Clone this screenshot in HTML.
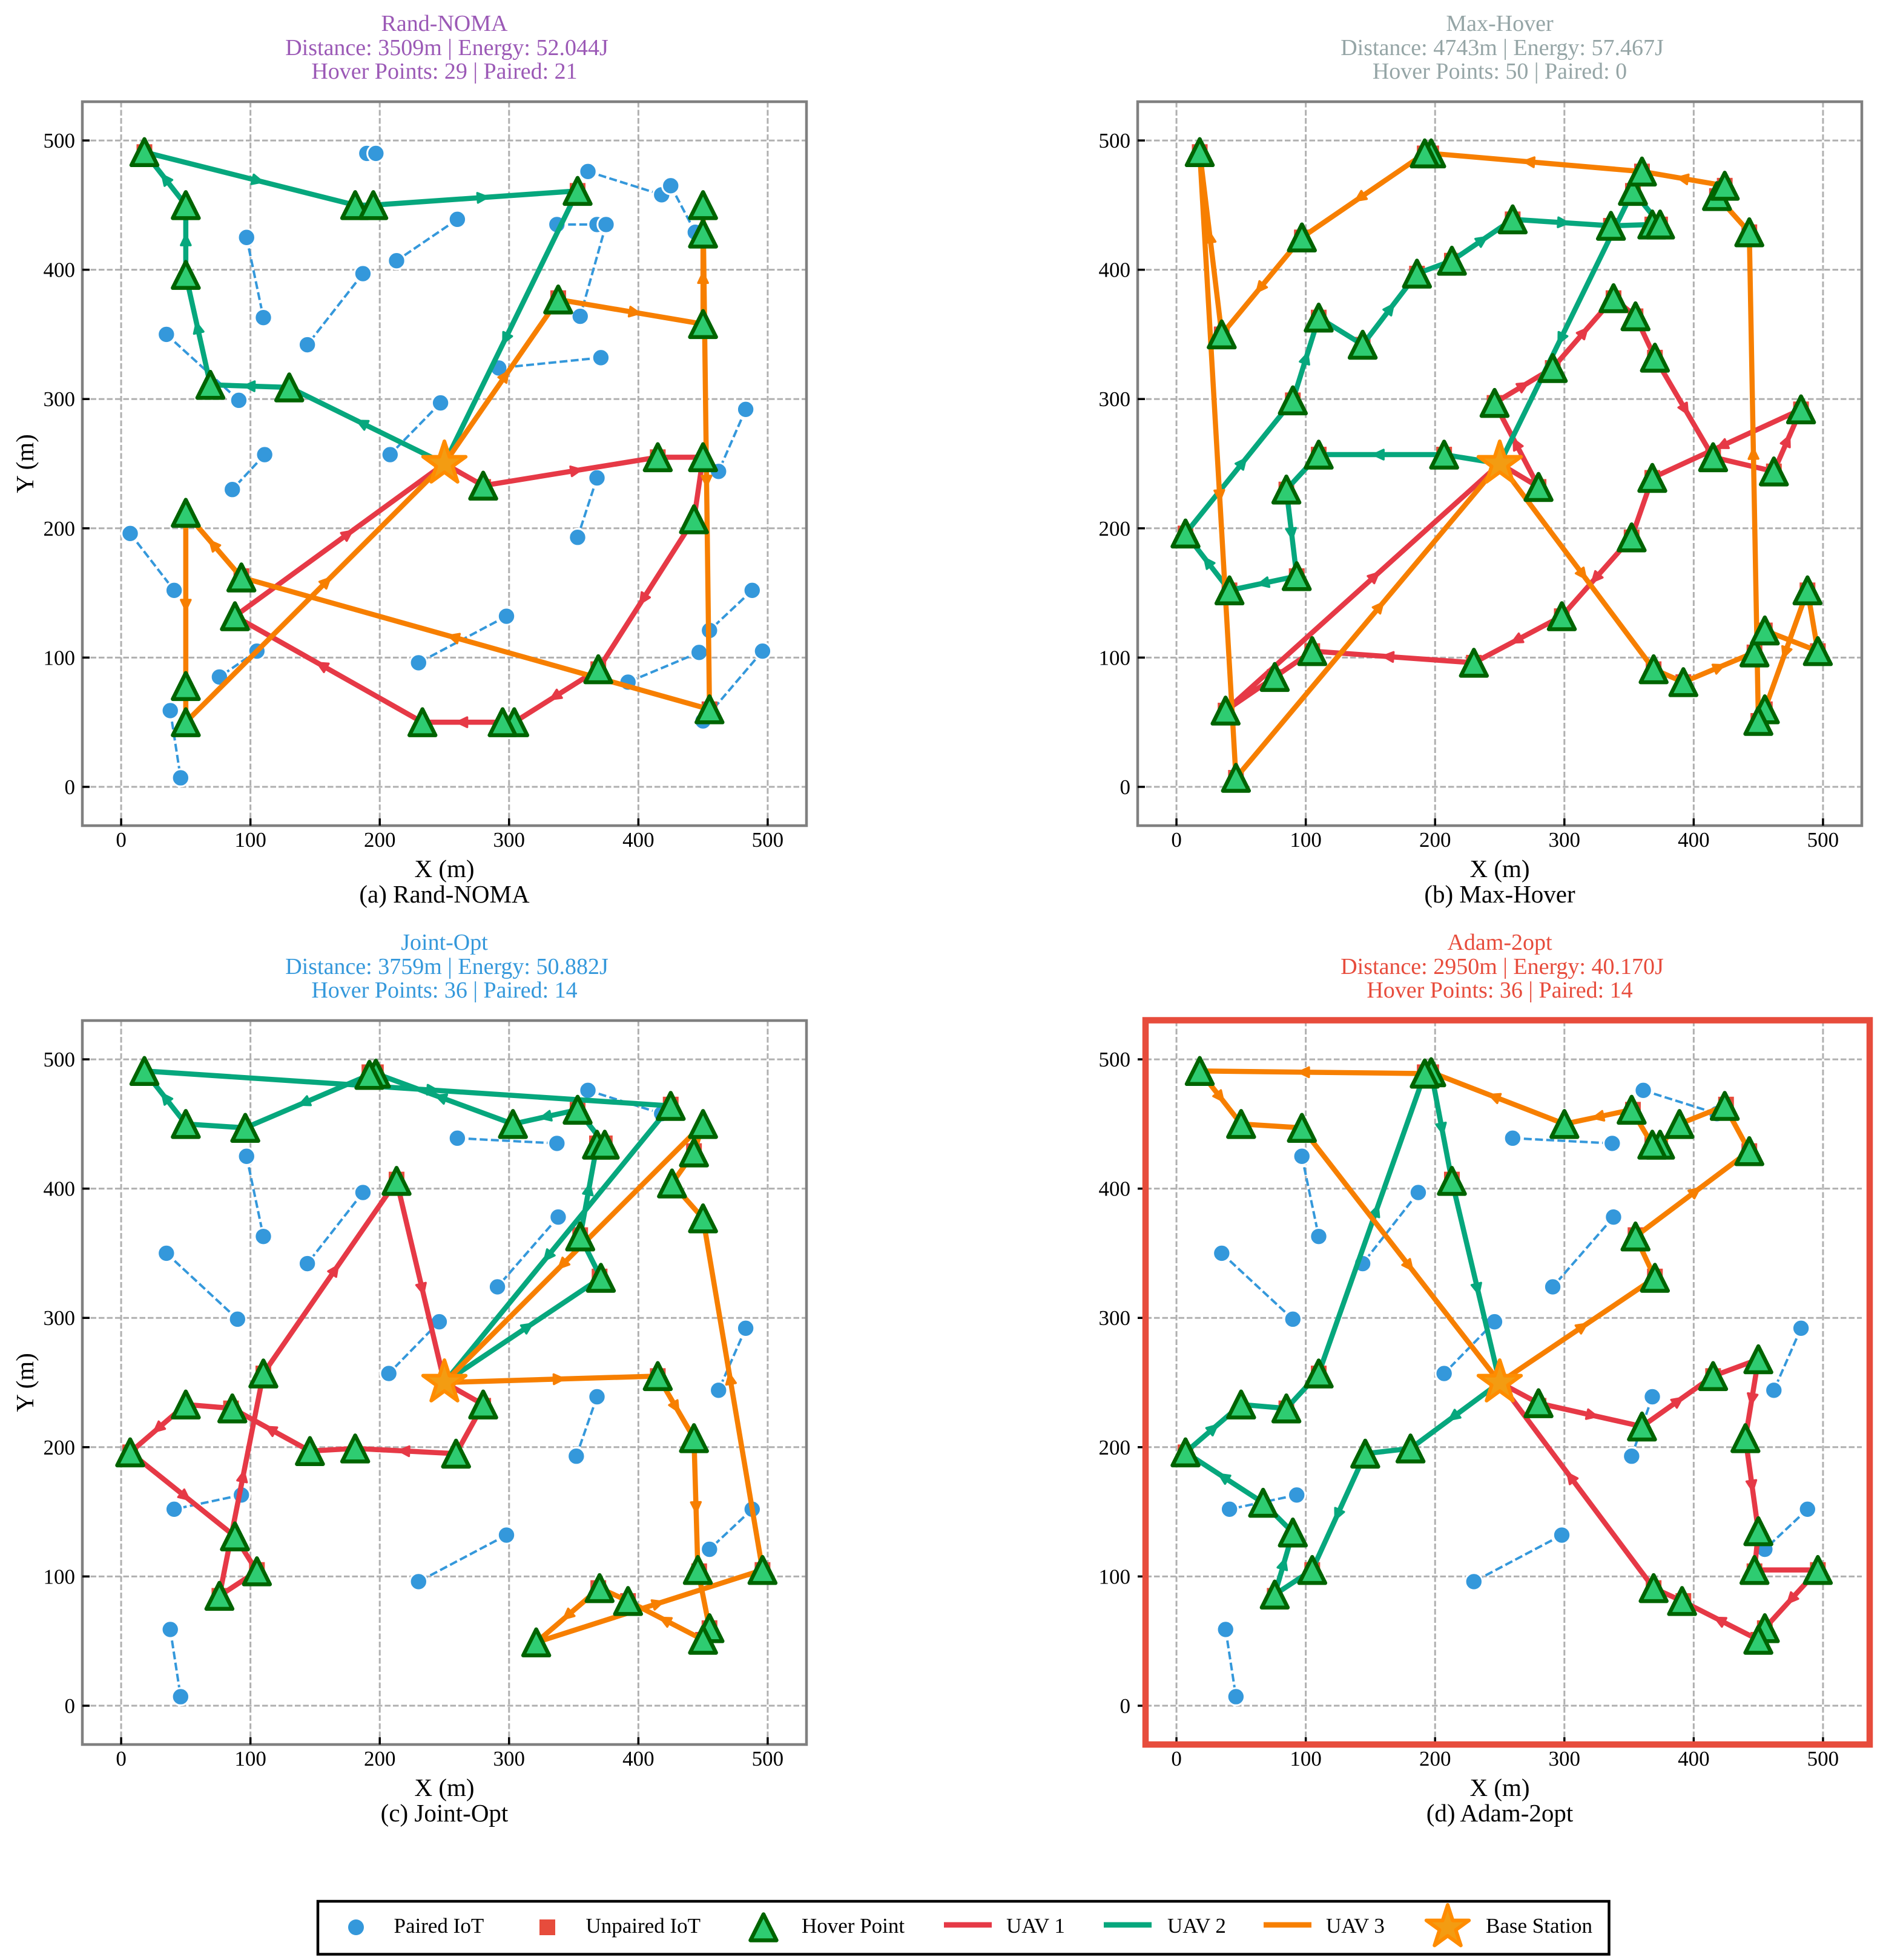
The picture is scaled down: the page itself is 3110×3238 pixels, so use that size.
<!DOCTYPE html>
<html lang="en">
<head>
<meta charset="utf-8">
<title>UAV trajectory comparison</title>
<style>
html,body{margin:0;padding:0;background:#fff;}
svg{display:block;}
text{font-family:"Liberation Serif",serif;fill:#000;}
.t{font-size:38px;text-anchor:middle;}
.lab{font-size:41px;text-anchor:middle;}
.leg{font-size:35px;}
</style>
</head>
<body>
<svg id="figure" xmlns="http://www.w3.org/2000/svg" width="3110" height="3238" viewBox="0 0 3110 3238">
<rect x="0" y="0" width="3110" height="3238" fill="#fff"/>

<g id="panel-a"></g>
<g id="panel-b"></g>
<g id="panel-c"></g>
<g id="panel-d"></g>

<g style="fill:#9b59b6">
<text class="t" x="734" y="51" style="fill:#9b59b6">Rand-NOMA</text>
<text class="t" x="738" y="91" style="fill:#9b59b6">Distance: 3509m | Energy: 52.044J</text>
<text class="t" x="734" y="130" style="fill:#9b59b6">Hover Points: 29 | Paired: 21</text>
</g>
<g>
<text class="t" x="2477" y="51" style="fill:#95a5a6">Max-Hover</text>
<text class="t" x="2481" y="91" style="fill:#95a5a6">Distance: 4743m | Energy: 57.467J</text>
<text class="t" x="2477" y="130" style="fill:#95a5a6">Hover Points: 50 | Paired: 0</text>
</g>
<g>
<text class="t" x="734" y="1569" style="fill:#3498db">Joint-Opt</text>
<text class="t" x="738" y="1609" style="fill:#3498db">Distance: 3759m | Energy: 50.882J</text>
<text class="t" x="734" y="1648" style="fill:#3498db">Hover Points: 36 | Paired: 14</text>
</g>
<g>
<text class="t" x="2477" y="1569" style="fill:#e74c3c">Adam-2opt</text>
<text class="t" x="2481" y="1609" style="fill:#e74c3c">Distance: 2950m | Energy: 40.170J</text>
<text class="t" x="2477" y="1648" style="fill:#e74c3c">Hover Points: 36 | Paired: 14</text>
</g>

<text class="lab" x="734" y="1449">X (m)</text>
<text class="lab" x="734" y="1491">(a) Rand-NOMA</text>
<text class="lab" x="2477" y="1449">X (m)</text>
<text class="lab" x="2477" y="1491">(b) Max-Hover</text>
<text class="lab" x="734" y="2967">X (m)</text>
<text class="lab" x="734" y="3009">(c) Joint-Opt</text>
<text class="lab" x="2477" y="2967">X (m)</text>
<text class="lab" x="2477" y="3009">(d) Adam-2opt</text>
<text class="lab" transform="translate(55,766) rotate(-90)">Y (m)</text>
<text class="lab" transform="translate(55,2284) rotate(-90)">Y (m)</text>

<g>
<rect x="525" y="3141" width="2132.5" height="87.5" fill="#fff" stroke="#000" stroke-width="4.5"/>
<circle cx="588" cy="3184" r="13" fill="#3498db"/>
<text class="leg" x="650.5" y="3193">Paired IoT</text>
<rect x="891" y="3171" width="26" height="26" fill="#e74c3c"/>
<text class="leg" x="967.5" y="3193">Unpaired IoT</text>
<polygon points="1261,3162.5 1239.5,3205.5 1282.5,3205.5" fill="#2ecc71" stroke="#006400" stroke-width="6.5" stroke-linejoin="round"/>
<text class="leg" x="1324" y="3193">Hover Point</text>
<rect x="1559" y="3175.5" width="79" height="9" fill="#e63946"/>
<text class="leg" x="1662" y="3193">UAV 1</text>
<rect x="1823" y="3175.5" width="79" height="9" fill="#06a77d"/>
<text class="leg" x="1928" y="3193">UAV 2</text>
<rect x="2087" y="3175.5" width="79" height="9" fill="#f77f00"/>
<text class="leg" x="2190" y="3193">UAV 3</text>
<polygon transform="translate(2391,3184)" points="0,-37 8.31,-11.43 35.19,-11.43 13.44,4.37 21.75,29.93 0,14.13 -21.75,29.93 -13.44,4.37 -35.19,-11.43 -8.31,-11.43" fill="#f39c12" stroke="#ff8c00" stroke-width="6" stroke-linejoin="round"/>
<text class="leg" x="2454" y="3193">Base Station</text>
</g>
</svg>

<script>
const axisTicks = [0, 100, 200, 300, 400, 500];
const baseStation = [250, 250];

const aUav1 = [[280,233],[415,255],[450,255],[443,207],[369,91],[304,50],[295,50],[233,50],[88,132]];
const aUav2 = [[130,309],[69,311],[50,396],[50,450],[18,491],[181,450],[195,450],[353,461]];
const aUav3 = [[338,377],[450,358],[450,428],[450,450],[455,60],[93,162],[50,212],[50,78],[50,50]];
const aPairs = [[190,490,197,490],[361,476,418,458],[425,465,444,429],[337,435,368,435],[375,435,355,364],[97,425,110,363],[260,439,213,407],[187,397,144,342],[35,350,91,299],[371,332,292,324],[247,297,208,257],[483,292,462,244],[111,257,86,230],[368,239,353,193],[7,196,41,152],[298,132,230,96],[488,152,455,121],[447,104,392,81],[496,105,450,51],[105,105,76,85],[38,59,46,7]];
const aUnpaired = [[18,491],[353,461],[338,378],[415,255],[280,232],[93,163],[369,91],[455,60]];

const bUav1 = [[280,232],[246,297],[291,324],[338,378],[355,364],[370,332],[415,255],[462,244],[483,292],[368,239],[352,193],[298,132],[230,96],[105,105],[76,85],[38,59]];
const bUav2 = [[207,257],[110,257],[85,230],[93,163],[41,152],[7,196],[90,299],[110,363],[144,342],[186,397],[213,407],[260,439],[336,434],[368,435],[374,435],[353,461]];
const bUav3 = [[369,91],[392,81],[447,104],[455,121],[496,105],[488,152],[455,60],[450,51],[443,429],[418,457],[424,465],[360,476],[197,490],[192,490],[97,425],[35,350],[18,491],[46,7]];
const bPairs = [];
const bUnpaired = [...bUav1, ...bUav2, ...bUav3];

const cUav1 = [[280,233],[259,195],[181,199],[146,197],[86,230],[50,233],[7,196],[88,131],[105,104],[76,85],[110,257],[213,406]];
const cUav2 = [[371,331],[355,363],[368,434],[374,434],[353,461],[303,450],[197,489],[192,488],[96,447],[50,450],[18,491],[425,464]];
const cUav3 = [[415,255],[443,207],[446,105],[455,60],[450,51],[392,81],[370,91],[321,49],[496,105],[450,377],[426,404],[443,428],[450,450]];
const cdPairs = [[361,476,418,458],[260,439,337,435],[97,425,110,363],[187,397,144,342],[338,378,291,324],[35,350,90,299],[246,297,207,257],[483,292,462,244],[368,239,352,193],[93,163,41,152],[488,152,455,121],[298,132,230,96],[38,59,46,7]];
const cdUnpaired = [[192,490],[197,490],[425,465],[353,461],[368,435],[374,435],[443,429],[213,407],[355,364],[370,332],[110,257],[415,255],[280,232],[85,230],[7,196],[105,105],[496,105],[447,104],[76,85],[369,91],[392,81],[455,60],[450,51]];

const dUav1 = [[280,234],[360,216],[415,255],[450,268],[440,207],[450,135],[447,105],[496,105],[455,60],[450,51],[391,81],[369,91]];
const dUav2 = [[181,199],[146,195],[105,105],[76,86],[90,134],[67,157],[7,196],[50,233],[85,230],[110,257],[192,489],[197,490],[213,406]];
const dUav3 = [[370,331],[355,363],[443,429],[424,464],[389,450],[374,434],[368,434],[352,461],[300,450],[197,490],[192,489],[18,491],[50,450],[97,447]];

const uavColors = ['#e63946', '#06a77d', '#f77f00'];
const NS = 'http://www.w3.org/2000/svg';
const UNIT = 1196 / 560;

function svgEl(tag, attrs, parent) {
  const el = document.createElementNS(NS, tag);
  for (const k in attrs) el.setAttribute(k, attrs[k]);
  parent.appendChild(el);
  return el;
}

function drawPanel(id, left, top, routes, pairs, unpaired, framed) {
  const g = document.getElementById(id);
  const right = left + 1196;
  const bottom = top + 1196;
  const sx = v => left + (v + 30) * UNIT;
  const sy = v => bottom - (v + 30) * UNIT;

  axisTicks.forEach(t => {
    const gx = svgEl('line', {x1: sx(t), x2: sx(t), y1: top, y2: bottom, stroke: '#b0b0b0', 'stroke-width': 3, 'stroke-dasharray': '9.5 4'}, g);
    
    
    const gy = svgEl('line', {x1: left, x2: right, y1: sy(t), y2: sy(t), stroke: '#b0b0b0', 'stroke-width': 3, 'stroke-dasharray': '9.5 4'}, g);
    
    
  });

  if (!framed) {
    const spine = svgEl('rect', {x: left, y: top, width: 1196, height: 1196, fill: 'none', stroke: '#808080', 'stroke-width': 4.5}, g);
    
    
  }

  axisTicks.forEach(t => {
    const tx = svgEl('line', {x1: sx(t), x2: sx(t), y1: bottom, y2: bottom - 12, stroke: '#000', 'stroke-width': 3.5}, g);
    
    
    const ty = svgEl('line', {x1: left, x2: left + 12, y1: sy(t), y2: sy(t), stroke: '#000', 'stroke-width': 3.5}, g);
    
    
    const lx = svgEl('text', {x: sx(t), y: bottom + 35, 'text-anchor': 'middle', 'font-size': 35}, g);
    lx.textContent = t;
    
    
    const ly = svgEl('text', {x: left - 12, y: sy(t) + 12, 'text-anchor': 'end', 'font-size': 35}, g);
    ly.textContent = t;
    
    
  });

  pairs.forEach(p => {
    const link = svgEl('line', {x1: sx(p[0]), y1: sy(p[1]), x2: sx(p[2]), y2: sy(p[3]), stroke: '#3498db', 'stroke-width': 4, 'stroke-dasharray': '13 5.5'}, g);
    
    
  });
  pairs.forEach(p => {
    [[p[0], p[1]], [p[2], p[3]]].forEach(d => {
      const dot = svgEl('circle', {cx: sx(d[0]), cy: sy(d[1]), r: 14.2, fill: '#3498db', stroke: '#fff', 'stroke-width': 3}, g);
      
      
    });
  });
  unpaired.forEach(d => {
    const sq = svgEl('rect', {x: sx(d[0]) - 13, y: sy(d[1]) - 13, width: 26, height: 26, fill: '#e74c3c'}, g);
    
    
  });

  routes.forEach((route, r) => {
    const full = [baseStation, ...route, baseStation];
    const path = svgEl('polyline', {points: full.map(p => sx(p[0]) + ',' + sy(p[1])).join(' '), fill: 'none', stroke: uavColors[r], 'stroke-width': 8.5, 'stroke-linejoin': 'round', 'stroke-linecap': 'round'}, g);
    
    
    for (let i = 0; i < full.length - 1; i++) {
      const a = full[i], b = full[i + 1];
      const dx = b[0] - a[0], dy = b[1] - a[1];
      const len = Math.hypot(dx, dy);
      if (len < 49.7) continue;
      const ux = dx / len, uy = -dy / len;
      const cx = sx(a[0] + dx * 0.555) - ux * 8, cy = sy(a[1] + dy * 0.555) - uy * 8;
      const pts = [[cx + ux * 10, cy + uy * 10], [cx - ux * 7 - uy * 8, cy - uy * 7 + ux * 8], [cx - ux * 7 + uy * 8, cy - uy * 7 - ux * 8]];
      const head = svgEl('polygon', {points: pts.map(q => q.join(',')).join(' '), fill: uavColors[r], stroke: uavColors[r], 'stroke-width': 3.5, 'stroke-linejoin': 'round'}, g);
      
      
    }
  });

  routes.forEach(route => {
    route.forEach(p => {
      const x = sx(p[0]), y = sy(p[1]);
      const tri = svgEl('polygon', {points: [x, y - 21.5, x - 21.5, y + 21.5, x + 21.5, y + 21.5].join(' '), fill: '#2ecc71', stroke: '#006400', 'stroke-width': 6.5, 'stroke-linejoin': 'round'}, g);
      
      
    });
  });

  const star = svgEl('polygon', {transform: 'translate(' + sx(baseStation[0]) + ',' + sy(baseStation[1]) + ')', points: '0,-37 8.31,-11.43 35.19,-11.43 13.44,4.37 21.75,29.93 0,14.13 -21.75,29.93 -13.44,4.37 -35.19,-11.43 -8.31,-11.43', fill: '#f39c12', stroke: '#ff8c00', 'stroke-width': 6, 'stroke-linejoin': 'round'}, g);
  
  

  if (framed) {
    const frame = svgEl('rect', {x: left + 13, y: top - 0.5, width: 1196, height: 1196.5, fill: 'none', stroke: '#e74c3c', 'stroke-width': 10.5}, g);
    
    
  }
}

drawPanel('panel-a', 136, 168, [aUav1, aUav2, aUav3], aPairs, aUnpaired, false);
drawPanel('panel-b', 1879, 168, [bUav1, bUav2, bUav3], bPairs, bUnpaired, false);
drawPanel('panel-c', 136, 1686, [cUav1, cUav2, cUav3], cdPairs, cdUnpaired, false);
drawPanel('panel-d', 1879, 1686, [dUav1, dUav2, dUav3], cdPairs, cdUnpaired, true);
</script>
</body>
</html>
